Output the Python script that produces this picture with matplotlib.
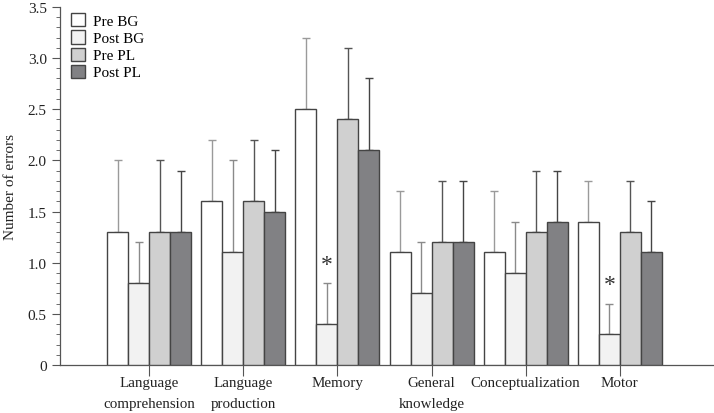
import matplotlib
matplotlib.use("Agg")
import matplotlib.pyplot as plt
import numpy as np
from matplotlib.patches import Patch
from matplotlib.ticker import MultipleLocator

plt.rcParams['font.family'] = ['Liberation Serif', 'DejaVu Serif']

categories = ["Language\ncomprehension", "Language\nproduction", "Memory",
              "General\nknowledge", "Conceptualization", "Motor"]
series = ["Pre BG", "Post BG", "Pre PL", "Post PL"]
means = {
    "Pre BG":  [1.3, 1.6, 2.5, 1.1, 1.1, 1.4],
    "Post BG": [0.8, 1.1, 0.4, 0.7, 0.9, 0.3],
    "Pre PL":  [1.3, 1.6, 2.4, 1.2, 1.3, 1.3],
    "Post PL": [1.3, 1.5, 2.1, 1.2, 1.4, 1.1],
}
# upper end of each error bar
tops = {
    "Pre BG":  [2.0, 2.2, 3.2, 1.7, 1.7, 1.8],
    "Post BG": [1.2, 2.0, 0.8, 1.2, 1.4, 0.6],
    "Pre PL":  [2.0, 2.2, 3.1, 1.8, 1.9, 1.8],
    "Post PL": [1.9, 2.1, 2.8, 1.8, 1.9, 1.6],
}
starred = [2, 5]  # Post BG significant

fills = ["#ffffff", "#f2f2f2", "#d0d0d0", "#818184"]
err_cols = ["#9a9a9a", "#8a8a8a", "#555555", "#444444"]

fig = plt.figure(figsize=(7.14, 4.14), dpi=100)
ax = fig.add_axes([0.084, 0.116, 0.916, 0.865])

x = np.arange(len(categories))
w = 0.223
offs = np.array([-1.5, -0.5, 0.5, 1.5]) * w
for i, s in enumerate(series):
    m = np.array(means[s])
    t = np.array(tops[s])
    ax.bar(x + offs[i], m, w, color=fills[i], edgecolor="#444444",
           linewidth=1.0, zorder=3)
    ax.errorbar(x + offs[i], m, yerr=[np.zeros_like(m), t - m], fmt="none",
                ecolor=err_cols[i], elinewidth=1.0, capsize=3, capthick=1.0,
                zorder=2)

for j in starred:
    ax.text(x[j] + offs[1], tops["Post BG"][j] + 0.08, "*", ha="center",
            va="bottom", fontsize=17, color="#333333")

ax.set_xlim(-0.947, 6.0)
ax.set_ylim(0, 3.5)
ax.yaxis.set_major_locator(MultipleLocator(0.5))
ax.yaxis.set_minor_locator(MultipleLocator(0.1))
ax.yaxis.set_major_formatter(plt.FuncFormatter(lambda v, p: f"{v:.1f}" if v > 0 else "0"))
ax.set_xticks(x)
ax.set_xticklabels(categories, linespacing=1.8, va="top")
ax.tick_params(axis="x", length=8, width=0.8, color="#555555", pad=0,
               labelsize=10.8, labelcolor="#222222")
ax.tick_params(axis="y", which="major", length=6, width=0.8, color="#555555",
               labelsize=11, labelcolor="#222222")
ax.tick_params(axis="y", which="minor", length=3, width=0.6, color="#555555")
for sp in ["top", "right"]:
    ax.spines[sp].set_visible(False)
for sp in ["left", "bottom"]:
    ax.spines[sp].set_color("#555555")
    ax.spines[sp].set_linewidth(0.9)
ax.set_ylabel("Number of errors", fontsize=11, color="#222222", labelpad=8)

handles = [Patch(facecolor=fills[i], edgecolor="#444444", label=s)
           for i, s in enumerate(series)]
ax.legend(handles=handles, loc="upper left", bbox_to_anchor=(0.0, 1.012),
          frameon=False, fontsize=11, handlelength=0.95, handleheight=0.95,
          handletextpad=0.5, labelspacing=0.15, borderpad=0.1,
          borderaxespad=0.6)

fig.savefig("out.png", dpi=100)
